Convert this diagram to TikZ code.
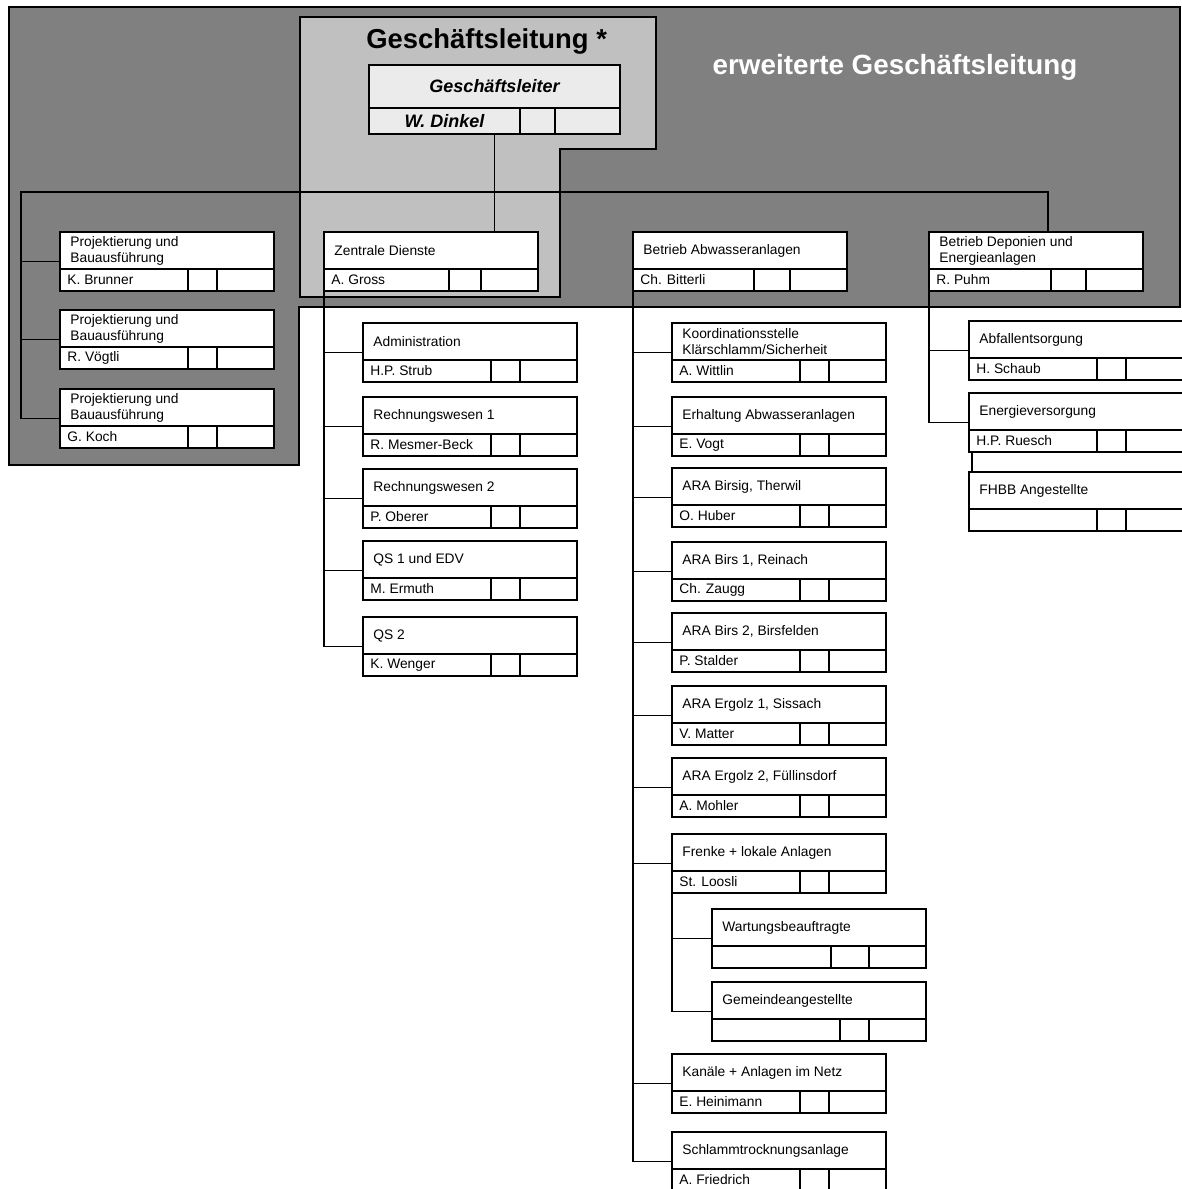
\documentclass[tikz,border=0pt]{standalone}
\usepackage{fontspec}
\setmainfont{Liberation Sans}
\usetikzlibrary{positioning,calc}
\definecolor{panelgray}{RGB}{128,128,128}
\definecolor{glgray}{RGB}{192,192,192}
\definecolor{headfill}{RGB}{235,235,235}

% one unit: title part, name row with two empty cells
\newcommand{\orgbox}[5][128]{%
  \node[unit] (#2) at (#3) {};
  \coordinate (#2-s) at ($(#2.north west)+(0,37)$);
  \draw[frame] (#2-s) -- (#2-s -| #2.east);
  \draw[frame] ($(#2-s)+(#1,0)$) -- ($(#2.south west)+(#1,0)$);
  \draw[frame] ($(#2-s)+(157,0)$) -- ($(#2.south west)+(157,0)$);
  \node[unittitle] at ($(#2.north west)!0.5!(#2-s)$) {#4};
  \node[unitname] at ($(#2-s)!0.5!(#2.south west)$) {#5};
}

\begin{document}
\begin{tikzpicture}[x=0.5pt, y=-0.5pt,
    unit/.style={draw, fill=white, line width=1.2pt, anchor=north west, minimum width=107pt, minimum height=29.5pt, inner sep=0pt, outer sep=0pt},
    frame/.style={line width=1.2pt},
    link/.style={line width=0.9pt},
    unittitle/.style={anchor=west, xshift=5pt, inner sep=0pt, align=left, font=\fontsize{6.9}{8}\selectfont},
    unitname/.style={anchor=west, xshift=3.5pt, inner sep=0pt, font=\fontsize{6.9}{8}\selectfont}]
  \useasboundingbox (0,0) rectangle (1182,1189);

  % panels
  \draw[line width=1.1pt, fill=panelgray] (9,7) -- (1180,7) -- (1180,307) -- (299,307) -- (299,465) -- (9,465) -- cycle;
  \draw[line width=1.1pt, fill=glgray] (300,17) -- (656,17) -- (656,149) -- (560,149) -- (560,297) -- (300,297) -- cycle;
  \node[font=\fontsize{13.7}{16}\bfseries\selectfont, anchor=base west, inner sep=0pt] (gltitle) at (366,48) {Geschäftsleitung *};
  \node[font=\fontsize{13.9}{16}\bfseries\selectfont, text=white, inner sep=0pt] (egl) at (895,67) {erweiterte Geschäftsleitung};

  % Geschaeftsleiter
  \node[unit, fill=headfill, minimum width=125.5pt, minimum height=34.5pt] (gl) at (369,65) {};
  \coordinate (gl-s) at ($(gl.north west)+(0,43)$);
  \draw[frame] (gl-s) -- (gl-s -| gl.east);
  \draw[frame] ($(gl-s)+(151,0)$) -- ($(gl.south west)+(151,0)$);
  \draw[frame] ($(gl-s)+(186,0)$) -- ($(gl.south west)+(186,0)$);
  \node[font=\fontsize{9}{11}\bfseries\itshape\selectfont] (glhead) at ($(gl.north)!0.5!(gl-s -| gl.north)$) {Geschäftsleiter};
  \node[font=\fontsize{9}{11}\bfseries\itshape\selectfont] (glname) at ($(gl-s)!0.5!(gl.south west)+(75.5,0)$) {W. Dinkel};

  % first level
  \orgbox{pk1}{60,232}{Projektierung und\\Bauausführung}{K. Brunner}
  \orgbox{pk2}{60,310}{Projektierung und\\Bauausführung}{R. Vögtli}
  \orgbox{pk3}{60,389}{Projektierung und\\Bauausführung}{G. Koch}
  \orgbox[125]{zd}{324,232}{Zentrale Dienste}{A. Gross}
  \orgbox[121]{ba}{633,232}{Betrieb Abwasseranlagen}{Ch. Bitterli}
  \orgbox[122]{bd}{929,232}{Betrieb Deponien und\\Energieanlagen}{R. Puhm}

  % Zentrale Dienste
  \orgbox{adm}{363,323}{Administration}{H.P. Strub}
  \orgbox{rw1}{363,397}{Rechnungswesen 1}{R. Mesmer-Beck}
  \orgbox{rw2}{363,469}{Rechnungswesen 2}{P. Oberer}
  \orgbox{qs1}{363,541}{QS 1 und EDV}{M. Ermuth}
  \orgbox{qs2}{363,617}{QS 2}{K. Wenger}

  % Betrieb Abwasseranlagen
  \orgbox{kst}{672,323}{Koordinationsstelle\\Klärschlamm/Sicherheit}{A. Wittlin}
  \orgbox{erh}{672,397}{Erhaltung Abwasseranlagen}{E. Vogt}
  \orgbox{bsg}{672,468}{ARA Birsig, Therwil}{O. Huber}
  \orgbox{bs1}{672,542}{ARA Birs 1, Reinach}{Ch. Zaugg}
  \orgbox{bs2}{672,613}{ARA Birs 2, Birsfelden}{P. Stalder}
  \orgbox{eg1}{672,686}{ARA Ergolz 1, Sissach}{V. Matter}
  \orgbox{eg2}{672,758}{ARA Ergolz 2, Füllinsdorf}{A. Mohler}
  \orgbox{frk}{672,834}{Frenke + lokale Anlagen}{St. Loosli}
  \orgbox[119]{wrt}{712,909}{Wartungsbeauftragte}{}
  \orgbox{gma}{712,982}{Gemeindeangestellte}{}
  \orgbox{kan}{672,1054}{Kanäle + Anlagen im Netz}{E. Heinimann}
  \orgbox{slt}{672,1132}{Schlammtrocknungsanlage}{A. Friedrich}

  % Betrieb Deponien
  \orgbox{abf}{969,321}{Abfallentsorgung}{H. Schaub}
  \orgbox{env}{969,393}{Energieversorgung}{H.P. Ruesch}
  \orgbox{fhb}{969,472}{FHBB Angestellte}{}

  % connectors
  \coordinate (busL) at (21,192);
  \coordinate (busR) at (1048,192);
  \draw[link] (gl.south) -- (gl.south |- zd.north);
  \draw[link] (busR |- bd.north) -- (busR) -- (busL) |- (pk3.west);
  \draw[link] (busL |- pk1.west) -- (pk1.west);
  \draw[link] (busL |- pk2.west) -- (pk2.west);
  \foreach \u in {adm,rw1,rw2,qs1,qs2}
    \draw[link] (zd.south west) |- (\u.west);
  \foreach \u in {kst,erh,bsg,bs1,bs2,eg1,eg2,frk,kan,slt}
    \draw[link] (ba.south west) |- (\u.west);
  \foreach \u in {wrt,gma}
    \draw[link] (frk.south west) |- (\u.west);
  \foreach \u in {abf,env}
    \draw[link] (bd.south west) |- (\u.west);
  \draw[link] ([xshift=1.5pt]env.south west) -- ([xshift=1.5pt]fhb.north west);
\end{tikzpicture}
\end{document}
